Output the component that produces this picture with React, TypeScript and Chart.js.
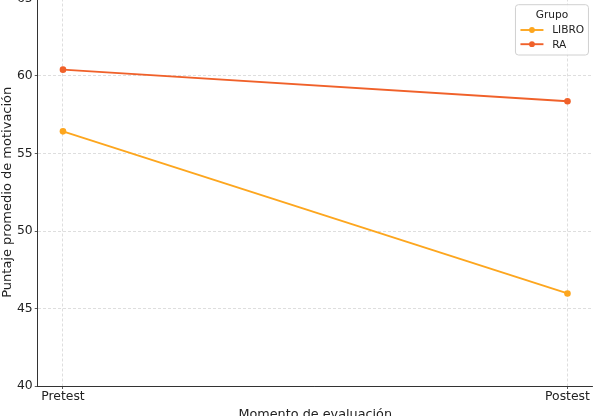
import React, { useEffect, useRef } from "react";
import { Chart, registerables } from "chart.js";

Chart.register(...registerables);

const categories = ["Pretest", "Postest"];
const seriesNames = ["LIBRO", "RA"];
const libroValues = [56.43, 45.97];
const raValues = [60.41, 58.37];
const yTicks = [40, 45, 50, 55, 60, 65];
const seriesColors = ["#FDA61E", "#F0612A"];

const FONT = '"DejaVu Sans", "Liberation Sans", sans-serif';

const legendPlugin = {
  id: "mplLegend",
  afterDatasetsDraw(chart: any) {
    const { ctx, chartArea } = chart;
    const w = 73;
    const h = 50.3;
    const x = chartArea.right - 4.25 - w;
    const y = chartArea.top + 6.2;
    ctx.save();
    ctx.beginPath();
    const r = 3;
    ctx.moveTo(x + r, y);
    ctx.lineTo(x + w - r, y);
    ctx.quadraticCurveTo(x + w, y, x + w, y + r);
    ctx.lineTo(x + w, y + h - r);
    ctx.quadraticCurveTo(x + w, y + h, x + w - r, y + h);
    ctx.lineTo(x + r, y + h);
    ctx.quadraticCurveTo(x, y + h, x, y + h - r);
    ctx.lineTo(x, y + r);
    ctx.quadraticCurveTo(x, y, x + r, y);
    ctx.closePath();
    ctx.fillStyle = "rgba(255,255,255,0.85)";
    ctx.fill();
    ctx.strokeStyle = "#d0d0d0";
    ctx.lineWidth = 1;
    ctx.stroke();

    ctx.fillStyle = "#222";
    ctx.font = `10.6px ${FONT}`;
    ctx.textAlign = "center";
    ctx.textBaseline = "alphabetic";
    ctx.fillText("Grupo", x + w / 2, y + 13.6);

    chart.data.datasets.forEach((ds: any, i: number) => {
      const ly = y + 25.3 + i * 14.2;
      ctx.strokeStyle = ds.borderColor;
      ctx.lineWidth = 1.9;
      ctx.beginPath();
      ctx.moveTo(x + 5, ly);
      ctx.lineTo(x + 28, ly);
      ctx.stroke();
      ctx.fillStyle = ds.borderColor;
      ctx.beginPath();
      ctx.arc(x + 16.5, ly, 2.9, 0, Math.PI * 2);
      ctx.fill();
      ctx.fillStyle = "#222";
      ctx.textAlign = "left";
      ctx.fillText(ds.label, x + 36.7, y + 28.6 + i * 14.2);
    });
    ctx.restore();
  },
};

export default function App() {
  const canvasRef = useRef<HTMLCanvasElement | null>(null);

  useEffect(() => {
    if (!canvasRef.current) return;
    const seriesValues = [libroValues, raValues];
    const chart = new Chart(canvasRef.current, {
      type: "line",
      data: {
        datasets: seriesNames.map((name, si) => ({
          label: name,
          data: seriesValues[si].map((v, i) => ({ x: i, y: v })),
          borderColor: seriesColors[si],
          backgroundColor: seriesColors[si],
          borderWidth: 1.9,
          pointRadius: 3.3,
          pointHoverRadius: 3.3,
          pointBorderWidth: 0,
          fill: false,
          tension: 0,
        })),
      },
      options: {
        animation: false,
        responsive: true,
        maintainAspectRatio: false,
        devicePixelRatio: 1,
        layout: { padding: { top: 10.5, right: 2.75, left: 0, bottom: 0 } },
        plugins: {
          legend: { display: false },
          tooltip: { enabled: false },
        },
        scales: {
          x: {
            type: "linear",
            min: -0.05,
            max: 1.05,
            afterBuildTicks: (scale: any) => {
              scale.ticks = categories.map((_, i) => ({ value: i }));
            },
            afterFit: (scale: any) => {
              scale.height = 36;
            },
            ticks: {
              callback: (v: any) => categories[v as number] ?? "",
              font: { family: FONT, size: 12.4 },
              color: "#222",
              padding: 0,
              maxRotation: 0,
              autoSkip: false,
            },
            grid: {
              color: "#d6d6d6",
              tickBorderDash: [],
              tickColor: "#333",
              tickLength: 3,
              lineWidth: 0.8,
            } as any,
            border: { display: true, color: "#333", width: 1, dash: [3, 2] } as any,
            title: {
              display: true,
              text: "Momento de evaluación",
              font: { family: FONT, size: 12.8 },
              color: "#222",
              padding: { top: 0, bottom: 0 },
            },
          },
          y: {
            type: "linear",
            min: yTicks[0],
            max: yTicks[yTicks.length - 1],
            afterBuildTicks: (scale: any) => {
              scale.ticks = yTicks.map((v) => ({ value: v }));
            },
            afterFit: (scale: any) => {
              scale.width = 37.75;
            },
            ticks: {
              font: { family: FONT, size: 12.4 },
              color: "#222",
              padding: 2,
            },
            grid: {
              color: "#d6d6d6",
              tickBorderDash: [],
              tickColor: "#333",
              tickLength: 3,
              lineWidth: 0.8,
            } as any,
            border: { display: true, color: "#333", width: 1, dash: [3, 2] } as any,
            title: {
              display: true,
              text: "Puntaje promedio de motivación",
              font: { family: FONT, size: 13 },
              color: "#222",
              padding: { top: 0, bottom: 0 },
            },
          },
        },
      },
      plugins: [legendPlugin],
    } as any);
    return () => chart.destroy();
  }, []);

  return (
    <div
      style={{
        position: "fixed",
        left: 0,
        top: -12,
        width: 596,
        height: 434,
        background: "#fff",
      }}
    >
      <canvas ref={canvasRef} />
    </div>
  );
}
